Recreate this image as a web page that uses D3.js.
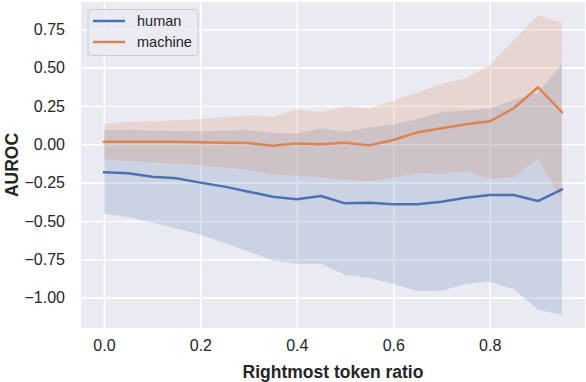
<html>
<head>
<meta charset="utf-8">
<script src='https://d3js.org/d3.v7.min.js'></script>
<style>
body { margin: 0; background-color: #ffffff; }
text { font-family: 'Liberation Sans', Arial, sans-serif; fill: #262626; }
</style>
</head>
<body>
<script>

// rightmost token ratio
var ratio = [0.00, 0.05, 0.10, 0.15, 0.20, 0.25, 0.30, 0.35, 0.40, 0.45,
             0.50, 0.55, 0.60, 0.65, 0.70, 0.75, 0.80, 0.85, 0.90, 0.95];

var humanMean = [-0.183, -0.189, -0.211, -0.222, -0.250, -0.276, -0.309, -0.342, -0.359, -0.337,
                 -0.385, -0.381, -0.391, -0.391, -0.374, -0.348, -0.331, -0.331, -0.370, -0.294];
var humanLo   = [-0.455, -0.476, -0.511, -0.548, -0.592, -0.646, -0.700, -0.757, -0.781, -0.781,
                 -0.852, -0.872, -0.913, -0.958, -0.957, -0.912, -0.896, -0.946, -1.081, -1.111];
var humanHi   = [0.095, 0.093, 0.090, 0.088, 0.087, 0.090, 0.095, 0.075, 0.072, 0.104,
                 0.082, 0.112, 0.130, 0.167, 0.210, 0.222, 0.235, 0.290, 0.335, 0.528];

var machineMean = [0.017, 0.017, 0.017, 0.016, 0.013, 0.010, 0.008, -0.009, 0.006, 0.000,
                   0.010, -0.007, 0.028, 0.078, 0.104, 0.130, 0.150, 0.235, 0.372, 0.209];
var machineLo   = [-0.100, -0.110, -0.120, -0.130, -0.140, -0.155, -0.170, -0.200, -0.207, -0.220,
                   -0.233, -0.244, -0.220, -0.190, -0.196, -0.178, -0.228, -0.218, -0.096, -0.374];
var machineHi   = [0.135, 0.145, 0.150, 0.158, 0.165, 0.178, 0.190, 0.180, 0.230, 0.210,
                   0.250, 0.235, 0.285, 0.340, 0.395, 0.430, 0.520, 0.680, 0.845, 0.795];

var xTicks = [0.0, 0.2, 0.4, 0.6, 0.8];
var yTicks = [-1.00, -0.75, -0.50, -0.25, 0.00, 0.25, 0.50, 0.75];

var seriesNames = ['human', 'machine'];
var seriesColors = ['#4C72B0', '#DD8452'];

var W = 586, H = 382;
var margin = {top: 2, right: 1, bottom: 54, left: 81};

var x = d3.scaleLinear().domain([-0.0475, 0.9975]).range([margin.left, W - margin.right]);
var y = d3.scaleLinear().domain([-1.198, 0.928]).range([H - margin.bottom, margin.top]);

var svg = d3.select('body').append('svg')
    .attr('width', W)
    .attr('height', H);

// plot background
svg.append('rect')
    .attr('x', margin.left)
    .attr('y', margin.top)
    .attr('width', W - margin.left - margin.right)
    .attr('height', H - margin.top - margin.bottom)
    .attr('fill', '#EAEAF2');

// grid
var xAxis = svg.append('g')
    .attr('transform', 'translate(0,' + (H - margin.bottom) + ')')
    .call(d3.axisBottom(x).tickValues(xTicks).tickFormat(d3.format('.1f'))
          .tickSize(-(H - margin.top - margin.bottom)).tickPadding(12));
var yAxis = svg.append('g')
    .attr('transform', 'translate(' + margin.left + ',0)')
    .call(d3.axisLeft(y).tickValues(yTicks).tickFormat(function(d) { return d3.format('.2f')(d).replace('-', '\u2212'); })
          .tickSize(-(W - margin.left - margin.right)).tickPadding(16));

[xAxis, yAxis].forEach(function(a) {
  a.select('.domain').remove();
  a.selectAll('.tick line').attr('stroke', '#ffffff').attr('stroke-width', 1.6);
  a.selectAll('.tick text').style('font-size', '16px').attr('fill', '#262626');
});

var data = [
  {name: 'human', mean: humanMean, lo: humanLo, hi: humanHi},
  {name: 'machine', mean: machineMean, lo: machineLo, hi: machineHi}
];

var area = d3.area()
    .x(function(d) { return x(d.x); })
    .y0(function(d) { return y(d.lo); })
    .y1(function(d) { return y(d.hi); });

var line = d3.line()
    .x(function(d) { return x(d.x); })
    .y(function(d) { return y(d.v); });

data.forEach(function(s, k) {
  var pts = ratio.map(function(r, i) { return {x: r, lo: s.lo[i], hi: s.hi[i], v: s.mean[i]}; });
  svg.append('path')
      .datum(pts)
      .attr('d', area)
      .attr('fill', seriesColors[k])
      .attr('fill-opacity', 0.2)
      .attr('stroke', '#ffffff')
      .attr('stroke-opacity', 0.3)
      .attr('stroke-width', 0.8)
      .attr('stroke-dasharray', '2,1.5');
});

data.forEach(function(s, k) {
  var pts = ratio.map(function(r, i) { return {x: r, v: s.mean[i]}; });
  svg.append('path')
      .datum(pts)
      .attr('d', line)
      .attr('fill', 'none')
      .attr('stroke', seriesColors[k])
      .attr('stroke-width', 2.5)
      .attr('stroke-linejoin', 'round')
      .attr('stroke-linecap', 'round');
});

// axis labels
svg.append('text')
    .attr('x', (margin.left + W - margin.right) / 2)
    .attr('y', 378)
    .attr('text-anchor', 'middle')
    .style('font-size', '17.5px')
    .style('font-weight', 'bold')
    .text('Rightmost token ratio');

svg.append('text')
    .attr('transform', 'translate(18,' + ((margin.top + H - margin.bottom) / 2) + ')rotate(-90)')
    .attr('text-anchor', 'middle')
    .style('font-size', '17.5px')
    .style('font-weight', 'bold')
    .text('AUROC');

// legend
var legend = svg.append('g');
legend.append('rect')
    .attr('x', 88).attr('y', 9.5)
    .attr('width', 110).attr('height', 46)
    .attr('rx', 3)
    .attr('fill', '#EAEAF2').attr('fill-opacity', 0.8)
    .attr('stroke', '#CCCCCC').attr('stroke-width', 1);

seriesNames.forEach(function(n, i) {
  var ly = 21 + i * 21;
  legend.append('line')
      .attr('x1', 93).attr('x2', 125)
      .attr('y1', ly).attr('y2', ly)
      .attr('stroke', seriesColors[i])
      .attr('stroke-width', 2.5);
  legend.append('text')
      .attr('x', 137).attr('y', ly)
      .attr('dy', '0.35em')
      .style('font-size', '14.5px')
      .text(n);
});

</script>
</body>
</html>
